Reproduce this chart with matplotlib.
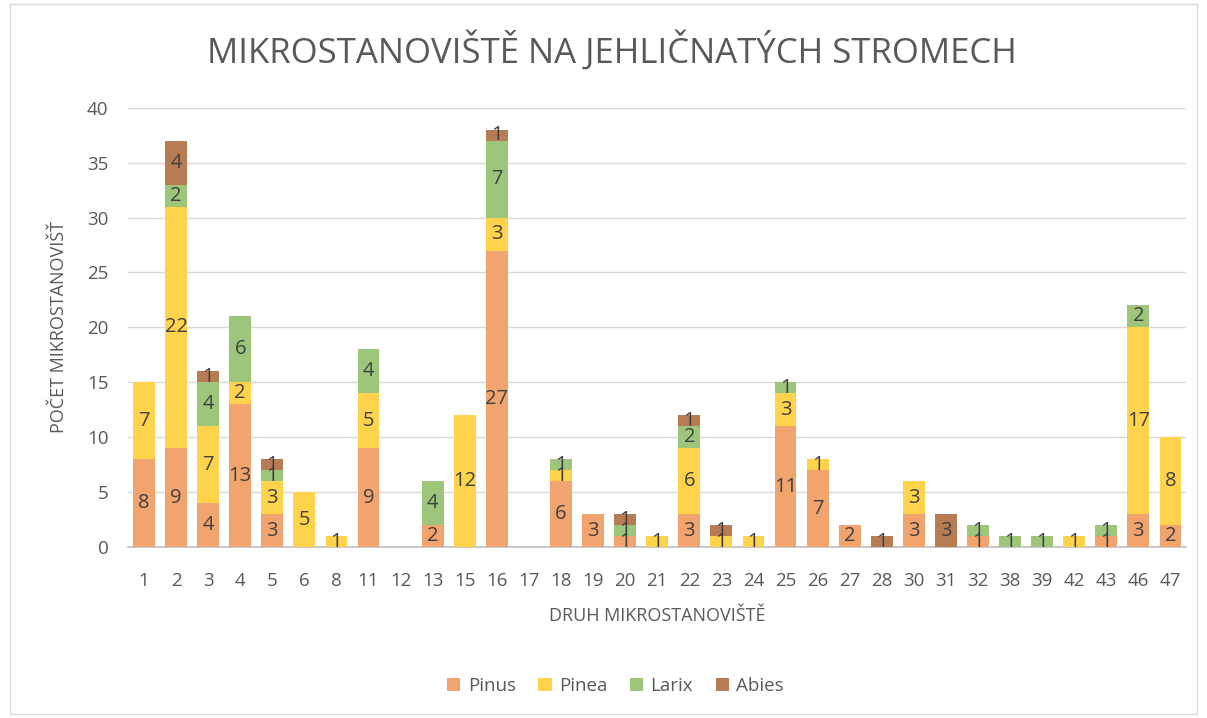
import matplotlib
matplotlib.use("Agg")
import matplotlib.pyplot as plt
import numpy as np

categories = ["1","2","3","4","5","6","8","11","12","13","15","16","17","18","19","20","21",
              "22","23","24","25","26","27","28","30","31","32","38","39","42","43","46","47"]
pinus = [8, 9, 4, 13, 3, 0, 0, 9, 0, 2, 0, 27, 0, 6, 3, 1, 0, 3, 0, 0, 11, 7, 2, 0, 3, 0, 1, 0, 0, 0, 1, 3, 2]
pinea = [7, 22, 7, 2, 3, 5, 1, 5, 0, 0, 12, 3, 0, 1, 0, 0, 1, 6, 1, 1, 3, 1, 0, 0, 3, 0, 0, 0, 0, 1, 0, 17, 8]
larix = [0, 2, 4, 6, 1, 0, 0, 4, 0, 4, 0, 7, 0, 1, 0, 1, 0, 2, 0, 0, 1, 0, 0, 0, 0, 0, 1, 1, 1, 0, 1, 2, 0]
abies = [0, 4, 1, 0, 1, 0, 0, 0, 0, 0, 0, 1, 0, 0, 0, 1, 0, 1, 1, 0, 0, 0, 0, 1, 0, 3, 0, 0, 0, 0, 0, 0, 0]
series_names = ["Pinus", "Pinea", "Larix", "Abies"]
colors = ["#F1A46E", "#FFD34B", "#9DC67B", "#B87C52"]

plt.rcParams['font.family'] = ['Open Sans', 'DejaVu Sans']

fig = plt.figure(figsize=(12.07, 7.18), dpi=100)
ax = fig.add_axes([0.106, 0.238, 0.877, 0.612])

x = np.arange(len(categories))
bottom = np.zeros(len(categories))
text_color = "#404040"
for name, vals, col in zip(series_names, [pinus, pinea, larix, abies], colors):
    vals = np.array(vals, dtype=float)
    ax.bar(x, vals, 0.68, bottom=bottom, color=col, label=name, zorder=3)
    for xi, b, v in zip(x, bottom, vals):
        if v > 0:
            ax.text(xi, b + v / 2, f"{int(v)}", ha="center", va="center",
                    fontsize=14.5, color=text_color, zorder=4)
    bottom += vals

ax.set_xlim(-0.5, len(categories) - 0.5)
ax.set_ylim(0, 40)
ax.set_yticks(range(0, 41, 5))
ax.set_xticks(x)
ax.set_xticklabels(categories)
ax.yaxis.grid(True, color="#D9D9D9", linewidth=1, zorder=0)
for s in ["top", "right", "left"]:
    ax.spines[s].set_visible(False)
ax.spines["bottom"].set_color("#BFBFBF")
ax.spines["bottom"].set_linewidth(1.2)
ax.tick_params(axis="both", length=0, labelsize=13.5, labelcolor="#595959")
ax.tick_params(axis="x", pad=18)
ax.tick_params(axis="y", pad=14)

ax.set_xlabel("DRUH MIKROSTANOVIŠTĚ", fontsize=13, color="#595959", labelpad=12)
ax.set_ylabel("POČET MIKROSTANOVIŠŤ", fontsize=13, color="#595959", labelpad=14)

fig.text(0.507, 0.93, "MIKROSTANOVIŠTĚ NA JEHLIČNATÝCH STROMECH", ha="center", va="center",
         fontsize=25, color="#595959")

fig.legend(loc="center", bbox_to_anchor=(0.51, 0.044), ncol=4, frameon=False,
           fontsize=13.5, handlelength=0.7, handleheight=0.7, columnspacing=1.2,
           handletextpad=0.4, labelcolor="#595959")

border = plt.Rectangle((0.008, 0.006), 0.984, 0.988, transform=fig.transFigure,
                       fill=False, edgecolor="#D9D9D9", linewidth=1)
fig.add_artist(border)

fig.savefig("out.png", dpi=100, facecolor="white")
